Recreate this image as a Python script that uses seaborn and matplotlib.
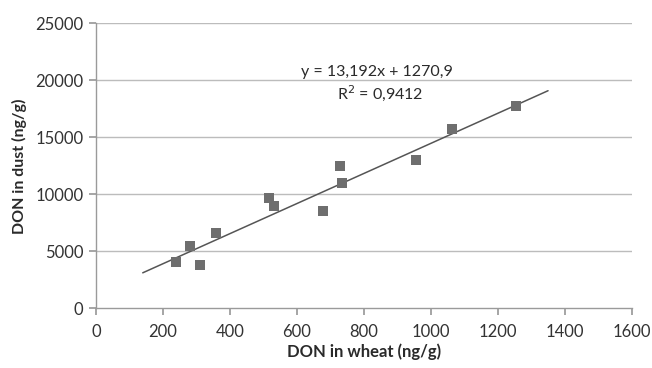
import matplotlib
matplotlib.use("Agg")
import matplotlib.pyplot as plt
import seaborn as sns
import numpy as np
import pandas as pd

wheat = [240, 280, 312, 360, 517, 532, 677, 730, 735, 957, 1062, 1253]
dust = [4100, 5500, 3800, 6600, 9700, 9000, 8500, 12500, 11000, 13000, 15700, 17700]
slope = 13.192
intercept = 1270.9
line_x = [140, 1350]
x_ticks = [0, 200, 400, 600, 800, 1000, 1200, 1400, 1600]
y_ticks = [0, 5000, 10000, 15000, 20000, 25000]

sns.set_theme(style="white")
plt.rcParams['font.family'] = ['Lato', 'DejaVu Sans']

df = pd.DataFrame({"wheat": wheat, "dust": dust})
fig = plt.figure(figsize=(6.52, 3.68), dpi=100)
ax = fig.add_axes([0.147, 0.162, 0.822, 0.775])

for yt in y_ticks[1:]:
    ax.axhline(yt, color="#bcbcbc", lw=1.0, zorder=0)

lx = np.array(line_x)
ax.plot(lx, slope * lx + intercept, color="#555555", lw=1.1, zorder=2)
sns.scatterplot(data=df, x="wheat", y="dust", marker="s", s=55, color="#6e6e6e",
                edgecolor="#6e6e6e", linewidth=0, ax=ax, zorder=3)

ax.set_xlim(0, 1600)
ax.set_ylim(0, 25000)
ax.set_xticks(x_ticks)
ax.set_yticks(y_ticks)
ax.tick_params(axis="x", direction="out", length=5, color="#9a9a9a", labelsize=12, labelcolor="#333333", pad=6)
ax.tick_params(axis="y", direction="out", length=5, color="#9a9a9a", labelsize=12, labelcolor="#333333", pad=4)
ax.xaxis.set_ticks_position("bottom")
ax.yaxis.set_ticks_position("left")
for s in ["top", "right"]:
    ax.spines[s].set_visible(False)
for s in ["left", "bottom"]:
    ax.spines[s].set_color("#9a9a9a")
    ax.spines[s].set_linewidth(1.0)

ax.set_xlabel("DON in wheat (ng/g)", fontsize=12, fontweight="bold", color="#2a2a2a", labelpad=3)
ax.set_ylabel("DON in dust (ng/g)", fontsize=11.5, fontweight="bold", color="#2a2a2a", labelpad=6)

ax.text(838, 20700, "y = 13,192x + 1270,9", ha="center", va="center", fontsize=11.5, color="#2a2a2a")
ax.text(850, 18900, "R$^2$ = 0,9412", ha="center", va="center", fontsize=11.5, color="#2a2a2a")

fig.savefig("out.png", dpi=100)
